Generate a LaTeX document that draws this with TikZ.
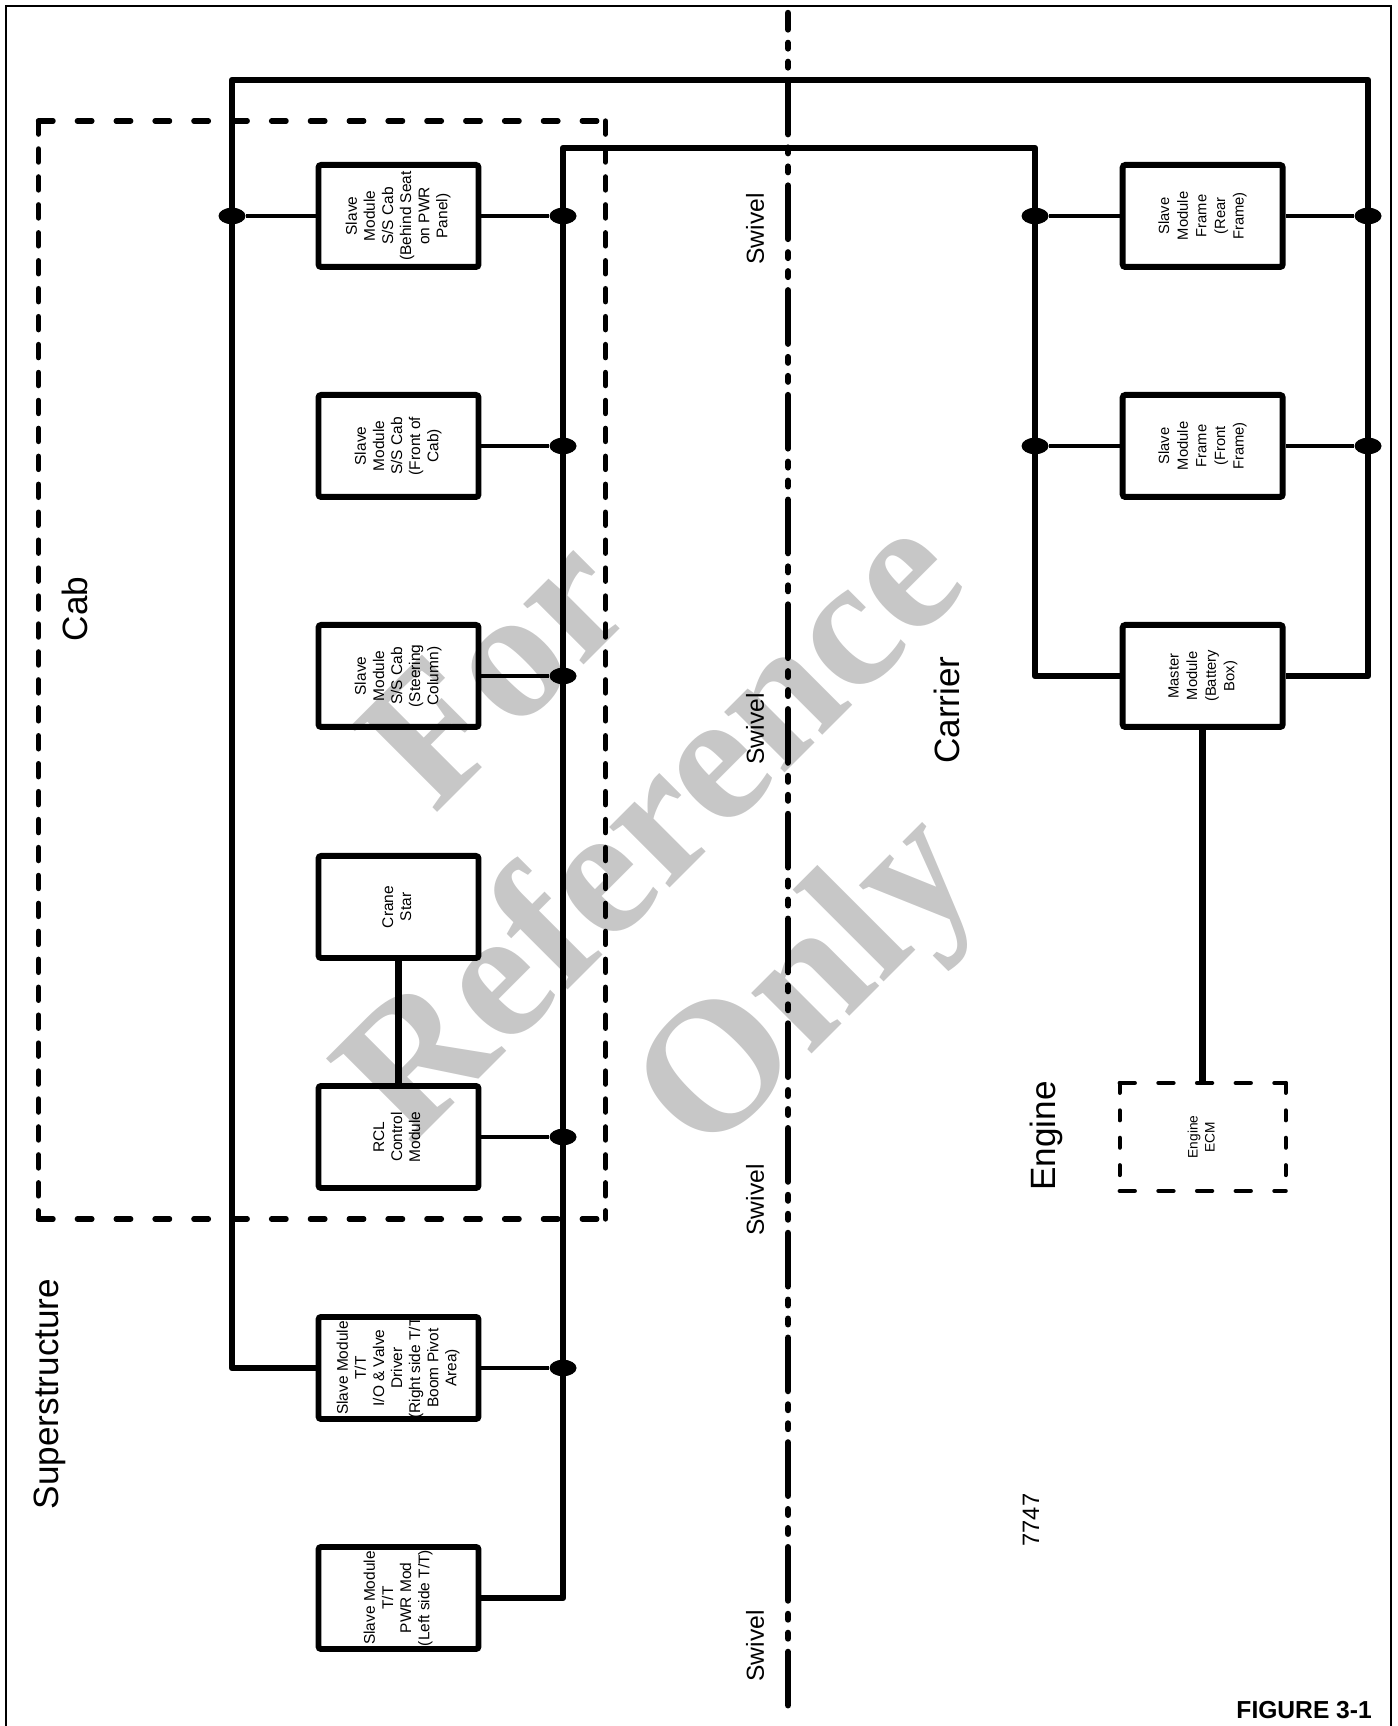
\documentclass[tikz,border=0pt]{standalone}
\usepackage{fontspec}
\setmainfont{Liberation Sans}
\newfontfamily\wmfont{Liberation Serif}
\usepackage{graphicx}
\usepackage{tikz}
\usetikzlibrary{positioning,shapes.geometric}

\newcommand{\vt}[1]{\rotatebox{90}{\begin{tabular}{@{}c@{}}#1\end{tabular}}}

\begin{document}
\begin{tikzpicture}[
    x=0.2mm, y=0.2mm,
    mod/.style={draw,line width=3.4pt,rounded corners=1.5pt,minimum width=32mm,minimum height=20.4mm,inner sep=0pt,font=\fontsize{8.8}{10.3}\selectfont},
    cmod/.style={mod,font=\fontsize{8.4}{10.6}\selectfont},
    bus/.style={line width=3.7pt,line join=round},
    stub/.style={line width=2.3pt},
    dot/.style={ellipse,fill,inner sep=0pt,minimum width=5.4mm,minimum height=3.3mm},
    cabh/.style={line width=3pt,line cap=round,dash pattern=on 8.3pt off 13.8pt},
    cabv/.style={line width=3pt,line cap=round,dash pattern=on 7.5pt off 8.4pt},
    ecmh/.style={line width=2.4pt,line cap=round,dash pattern=on 8.6pt off 13.4pt},
    ecmv/.style={line width=2.4pt,line cap=round,dash pattern=on 5.6pt off 10pt},
    swiv/.style={line width=3.6pt,line cap=round,dash pattern=on 30.4pt off 7.6pt on 3.2pt off 7.6pt on 3.2pt off 7.6pt,dash phase=21pt},
    big/.style={rotate=90,font=\fontsize{20}{24}\selectfont},
    swl/.style={rotate=90,font=\fontsize{14}{17}\selectfont},
    wmark/.style={rotate=45,align=center,text=black!22,font=\wmfont\bfseries\fontsize{106}{124}\selectfont}
  ]
    \useasboundingbox (0,0) rectangle (1397,1726);
    \node[wmark] (wm) at (662,888) {For\\Reference\\Only};
    \draw[line width=1.1pt] (6,0) -- (6,1720) -- (1391,1720) -- (1391,0);

    \node[mod] (seat) at (398.5,1510) {\vt{Slave\\Module\\S/S Cab\\(Behind Seat\\on PWR\\Panel)}};
    \node[mod] (front) at (398.5,1280) {\vt{Slave\\Module\\S/S Cab\\(Front of\\Cab)}};
    \node[mod] (steer) at (398.5,1050) {\vt{Slave\\Module\\S/S Cab\\(Steering\\Column)}};
    \node[mod] (star) at (398.5,819) {\vt{Crane\\Star}};
    \node[mod] (rcl) at (398.5,589) {\vt{RCL\\Control\\Module}};
    \node[mod] (valve) at (398.5,358) {\vt{Slave Module\\T/T\\I/O \& Valve\\Driver\\(Right side T/T\\Boom Pivot\\Area)}};
    \node[mod] (pwr) at (398.5,128) {\vt{Slave Module\\T/T\\PWR Mod\\(Left side T/T)}};

    \node[cmod] (rear) at (1202.7,1510) {\vt{Slave\\Module\\Frame\\(Rear\\Frame)}};
    \node[cmod] (frnt) at (1202.7,1280) {\vt{Slave\\Module\\Frame\\(Front\\Frame)}};
    \node[cmod] (master) at (1202.7,1050) {\vt{Master\\Module\\(Battery\\Box)}};
    \node[cmod,draw=none,font=\fontsize{7.8}{9.6}\selectfont] (ecm) at (1202.7,589) {\vt{Engine\\ECM}};
    \draw[ecmh] (ecm.north west) -- (ecm.north east);
    \draw[ecmh] (ecm.south west) -- (ecm.south east);
    \draw[ecmv] (ecm.north west) -- (ecm.south west);
    \draw[ecmv] (ecm.north east) -- (ecm.south east);

    \draw[cabh] (38.5,1605) -- (605.5,1605);
    \draw[cabh] (38.5,507) -- (605.5,507);
    \draw[cabv] (38.5,1605) -- (38.5,507);
    \draw[cabv] (605.5,1605) -- (605.5,507);

    \draw[swiv] (788,1713) -- (788,13);

    \coordinate (tl) at (232,1646);
    \coordinate (tr) at (1368,1646);
    \coordinate (ml) at (563,1578);
    \coordinate (mr) at (1035,1578);

    \node[dot] (d1) at (232,1510) {};
    \node[dot] (d2) at (563,1510) {};
    \node[dot] (d3) at (563,1280) {};
    \node[dot] (d4) at (563,1050) {};
    \node[dot] (d5) at (563,589) {};
    \node[dot] (d6) at (563,358) {};
    \node[dot] (d7) at (1035,1510) {};
    \node[dot] (d8) at (1368,1510) {};
    \node[dot] (d9) at (1035,1280) {};
    \node[dot] (d10) at (1368,1280) {};

    \draw[bus] (valve.west) -| (tl) -- (tr) |- (master.east);
    \draw[bus] (pwr.east) -| (ml) -- (mr) |- (master.west);
    \draw[bus] (star.south) -- (rcl.north);
    \draw[bus] (master.south) -- (ecm.north);

    \draw[stub] (seat.west) -- (d1);
    \draw[stub] (seat.east) -- (d2);
    \draw[stub] (front.east) -- (d3);
    \draw[stub] (steer.east) -- (d4);
    \draw[stub] (rcl.east) -- (d5);
    \draw[stub] (valve.east) -- (d6);
    \draw[stub] (rear.west) -- (d7);
    \draw[stub] (rear.east) -- (d8);
    \draw[stub] (frnt.west) -- (d9);
    \draw[stub] (frnt.east) -- (d10);

    \node[big] (cab) at (75,1117) {Cab};
    \node[big] (sup) at (50,332) {Superstructure};
    \node[big] (car) at (947,1016) {Carrier};
    \node[big] (eng) at (1046,590) {Engine};
    \node[swl] (sw1) at (755,1497) {Swivel};
    \node[swl] (sw2) at (755,997) {Swivel};
    \node[swl] (sw3) at (755,526) {Swivel};
    \node[swl] (sw4) at (755,80) {Swivel};
    \node[rotate=90,font=\fontsize{13.5}{16}\selectfont] (num) at (1031,206) {7747};
    \node[anchor=east,font=\bfseries\fontsize{14}{17}\selectfont] (fig) at (1378,16) {FIGURE 3-1};
\end{tikzpicture}
\end{document}
